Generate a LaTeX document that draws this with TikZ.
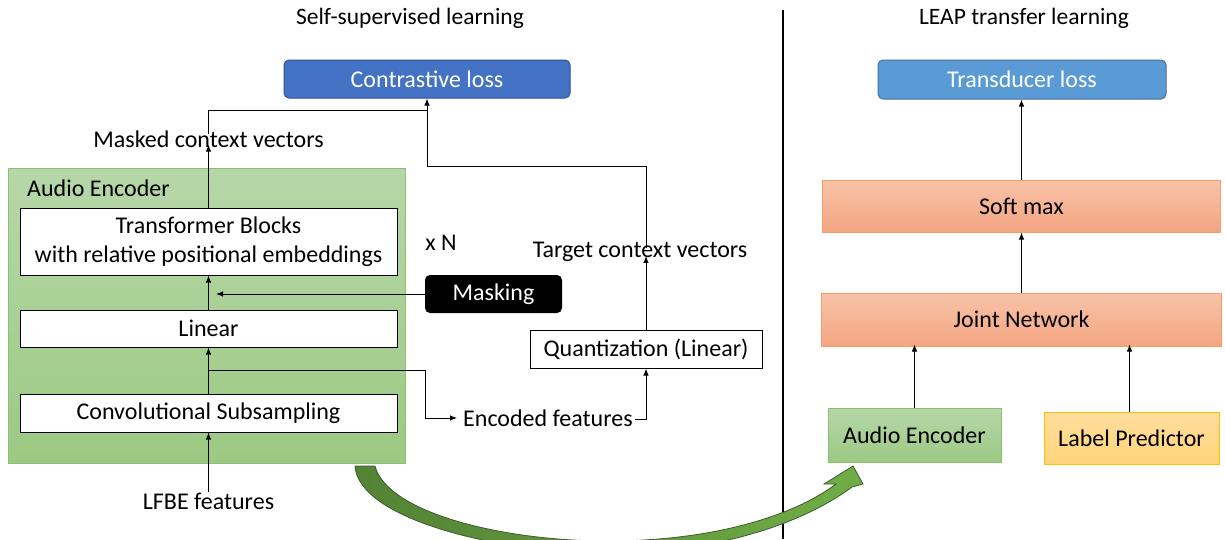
\documentclass[tikz,border=0pt]{standalone}
\usepackage{fontspec}
\setmainfont{Carlito}
\usetikzlibrary{arrows.meta,calc}
\definecolor{cblue}{HTML}{4472C4}
\definecolor{cbluebd}{HTML}{2F528F}
\definecolor{tblue}{HTML}{5B9BD5}
\definecolor{tbluebd}{HTML}{41719C}
\definecolor{gtop}{HTML}{B6D7A8}
\definecolor{gbot}{HTML}{9CC983}
\definecolor{gbd}{HTML}{8CC070}
\definecolor{stop}{HTML}{F8C3A8}
\definecolor{sbot}{HTML}{F4A582}
\definecolor{sbd}{HTML}{F4A062}
\definecolor{ytop}{HTML}{FFDE9E}
\definecolor{ybot}{HTML}{FFD47A}
\definecolor{ybd}{HTML}{FFC000}
\definecolor{adark}{HTML}{548235}
\definecolor{alight}{HTML}{70AD47}
\definecolor{abd}{HTML}{3B5E2A}
\tikzset{
  txt/.style={font=\fontsize{24}{29}\selectfont, inner sep=0pt},
  ttl/.style={font=\fontsize{23.5}{28}\selectfont, inner sep=0pt},
  wbox/.style={txt, draw=black, line width=1pt, fill=white},
  lossbox/.style={txt, text=white, rounded corners=5pt, line width=1pt},
  encbox/.style={draw=gbd, line width=1pt, top color=gtop, bottom color=gbot},
  salbox/.style={txt, draw=sbd, line width=1pt, top color=stop, bottom color=sbot},
  arr/.style={line width=1pt, -{Latex[length=7pt,width=5.5pt]}},
  ln/.style={line width=1pt},
}
\begin{document}
\begin{tikzpicture}[x=1pt,y=-1pt]
\useasboundingbox (0,0) rectangle (1225,539);
\clip (0,0) rectangle (1225,539);

% divider
\draw[line width=2.5pt] (783,10) -- (783,539);

% titles
\node[ttl] (t1) at (410,18) {Self-supervised learning};
\node[ttl] (t2) at (1024,18) {LEAP transfer learning};

% ---------- left part ----------
\node[lossbox, fill=cblue, draw=cbluebd, minimum width=286pt, minimum height=38pt] (cl) at (427,79) {Contrastive loss};

\node[encbox, minimum width=397pt, minimum height=295pt] (enc) at (206.5,315.5) {};
\node[txt, anchor=west] (enclbl) at (27,188) {Audio Encoder};

\node[wbox, minimum width=377pt, minimum height=67pt, align=center] (tf) at (208.5,241.5) {Transformer Blocks\\with relative positional embeddings};
\node[wbox, minimum width=377pt, minimum height=37pt] (lin) at (208.5,328.5) {Linear};
\node[wbox, minimum width=377pt, minimum height=38pt] (conv) at (208.5,413) {Convolutional Subsampling};

\node[txt] (mcv) at (208.5,139) {Masked context vectors};
\node[txt] (lfbe) at (208.5,501) {LFBE features};
\node[txt] (xn) at (441,243) {x N};
\node[txt, fill=black, text=white, rounded corners=5pt, minimum width=137pt, minimum height=38pt] (mask) at (493.5,294) {Masking};
\node[txt, anchor=west] (encf) at (463,418) {Encoded features};
\node[wbox, minimum width=232pt, minimum height=38pt] (q) at (646,349) {Quantization (Linear)};
\node[txt] (tcv) at (640,252) {Target context vectors};

\coordinate (br) at (208.5,370);
\coordinate (bk) at (425,370);
\coordinate (mk) at (216,294);
\coordinate (j1) at (427,110);
\coordinate (j2) at (646,166);

\draw[arr] (lfbe.north) -- (conv.south);
\draw[arr] (conv.north) -- (lin.south);
\draw[arr] (lin.north) -- (tf.south);
\draw[arr] (tf.north) -- ([yshift=3pt]mcv.south);
\draw[arr] (br) -- (bk) |- ([xshift=-6pt]encf.west);
\draw[arr] (mask.west) -- (mk);
\draw[ln] ([yshift=-4pt]mcv.north) |- (j1);
\draw[arr] ([xshift=2pt,yshift=-1pt]encf.east) -| (q.south);
\draw[arr] (q.north) -- ([yshift=6pt]q.north |- tcv.south);
\draw[arr] ([yshift=-6pt]q.north |- tcv.north) -- (j2) -| (cl.south);

% ---------- right part ----------
\node[lossbox, fill=tblue, draw=tbluebd, minimum width=288pt, minimum height=39pt] (tl) at (1022,79.5) {Transducer loss};
\node[salbox, minimum width=398pt, minimum height=52pt] (sm) at (1021.5,206) {Soft max};
\node[salbox, minimum width=400pt, minimum height=53pt] (jn) at (1021.5,319.5) {Joint Network};
\node[txt, encbox, minimum width=173pt, minimum height=54pt] (ae2) at (914.5,435) {Audio Encoder};
\node[txt, draw=ybd, line width=1pt, top color=ytop, bottom color=ybot, minimum width=175pt, minimum height=52pt] (lp) at (1131.5,438) {Label Predictor};

\draw[arr] (sm.north) -- (sm.north |- tl.south);
\draw[arr] (jn.north) -- (sm.south);
\draw[arr] (ae2.north) -- ([yshift=2pt]ae2.north |- jn.south);
\draw[arr] ([xshift=-2pt]lp.north) -- ([xshift=-2pt,yshift=2pt]lp.north |- jn.south);

% ---------- curved transfer arrow ----------
\path[draw=abd, line width=0.8pt, left color=adark, right color=alight]
  (375,466) -- (355,466)
  .. controls (358,518) and (495,553) .. (608,553)
  .. controls (720,553) and (805,522) .. (852,487)
  -- (863,484) -- (853,466) -- (824,484) -- (836,484)
  .. controls (795,515) and (715,541) .. (608,541)
  .. controls (500,541) and (387,512) .. (375,466) -- cycle;
\end{tikzpicture}
\end{document}
